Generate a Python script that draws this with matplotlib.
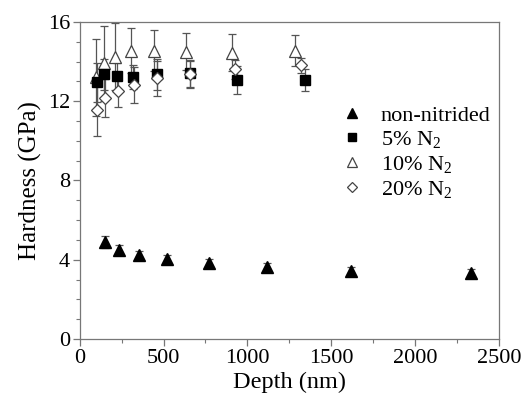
import numpy as np
import matplotlib.pyplot as plt
from matplotlib.ticker import MultipleLocator

plt.rcParams['font.family'] = ['Liberation Serif', 'DejaVu Serif']
plt.rcParams['mathtext.fontset'] = 'custom'
plt.rcParams['mathtext.rm'] = 'Liberation Serif'

# non-nitrided
depth_0 = [150, 233, 352, 520, 768, 1117, 1620, 2335]
hard_0 = [4.9, 4.5, 4.25, 4.05, 3.85, 3.65, 3.45, 3.35]
err_0 = [0.3, 0.25, 0.2, 0.2, 0.2, 0.2, 0.2, 0.2]

# 5% N2
depth_5 = [100, 145, 221, 318, 461, 655, 941, 1344]
hard_5 = [12.95, 13.35, 13.25, 13.2, 13.35, 13.4, 13.05, 13.05]
err_5 = [1.0, 0.8, 0.7, 0.6, 0.8, 0.7, 0.7, 0.55]

# 10% N2
depth_10 = [95, 145, 213, 304, 443, 632, 909, 1283]
hard_10 = [13.2, 13.9, 14.25, 14.55, 14.55, 14.5, 14.45, 14.55]
err_10 = [1.95, 1.9, 1.7, 1.15, 1.05, 0.95, 0.95, 0.8]

# 20% N2
depth_20 = [105, 153, 229, 322, 461, 660, 929, 1317]
hard_20 = [11.55, 12.15, 12.5, 12.8, 13.15, 13.35, 13.6, 13.8]
err_20 = [1.3, 0.95, 0.8, 0.9, 0.9, 0.7, 0.5, 0.4]

fig = plt.figure(figsize=(5.25, 4.05), dpi=100)
ax = fig.add_axes([0.152, 0.163, 0.798, 0.783])

ebkw = dict(ecolor='#555555', elinewidth=0.9, capsize=3, capthick=0.9, linestyle='none')
ax.errorbar(depth_10, hard_10, yerr=err_10, marker='^', ms=8, mfc='white', mec='#444444', mew=0.9,
            label='10% N$_2$', **ebkw)
ax.errorbar(depth_5, hard_5, yerr=err_5, marker='s', ms=6.5, mfc='black', mec='black',
            label='5% N$_2$', **ebkw)
ax.errorbar(depth_20, hard_20, yerr=err_20, marker='D', ms=6.5, mfc='white', mec='#444444', mew=0.9,
            label='20% N$_2$', **ebkw)
ax.errorbar(depth_0, hard_0, yerr=err_0, marker='^', ms=8, mfc='black', mec='black',
            label='non-nitrided', **ebkw)

ax.set_xlim(0, 2500)
ax.set_ylim(0, 16)
ax.set_xticks(np.arange(0, 2501, 500))
ax.set_yticks(np.arange(0, 17, 4))
ax.xaxis.set_minor_locator(MultipleLocator(250))
ax.yaxis.set_minor_locator(MultipleLocator(1))
ax.tick_params(which='both', direction='out', color='#777777', labelsize=16, top=False, right=False)
ax.tick_params(which='major', length=5, width=0.9, pad=2)
ax.tick_params(which='minor', length=3, width=0.8)
for s in ax.spines.values():
    s.set_color('#777777')
    s.set_linewidth(0.9)

ax.set_xlabel('Depth (nm)', fontsize=17.5, labelpad=3)
ax.set_ylabel('Hardness (GPa)', fontsize=18, labelpad=4)

h, l = ax.get_legend_handles_labels()
order = [3, 1, 0, 2]
h = [h[i][0] for i in order]
l = [l[i] for i in order]
ax.legend(h, l, loc='upper left', bbox_to_anchor=(0.57, 0.8), frameon=False, fontsize=16,
          handletextpad=0.7, labelspacing=0.15, handlelength=1.2, markerscale=0.85)

fig.savefig('out.png', dpi=100)
